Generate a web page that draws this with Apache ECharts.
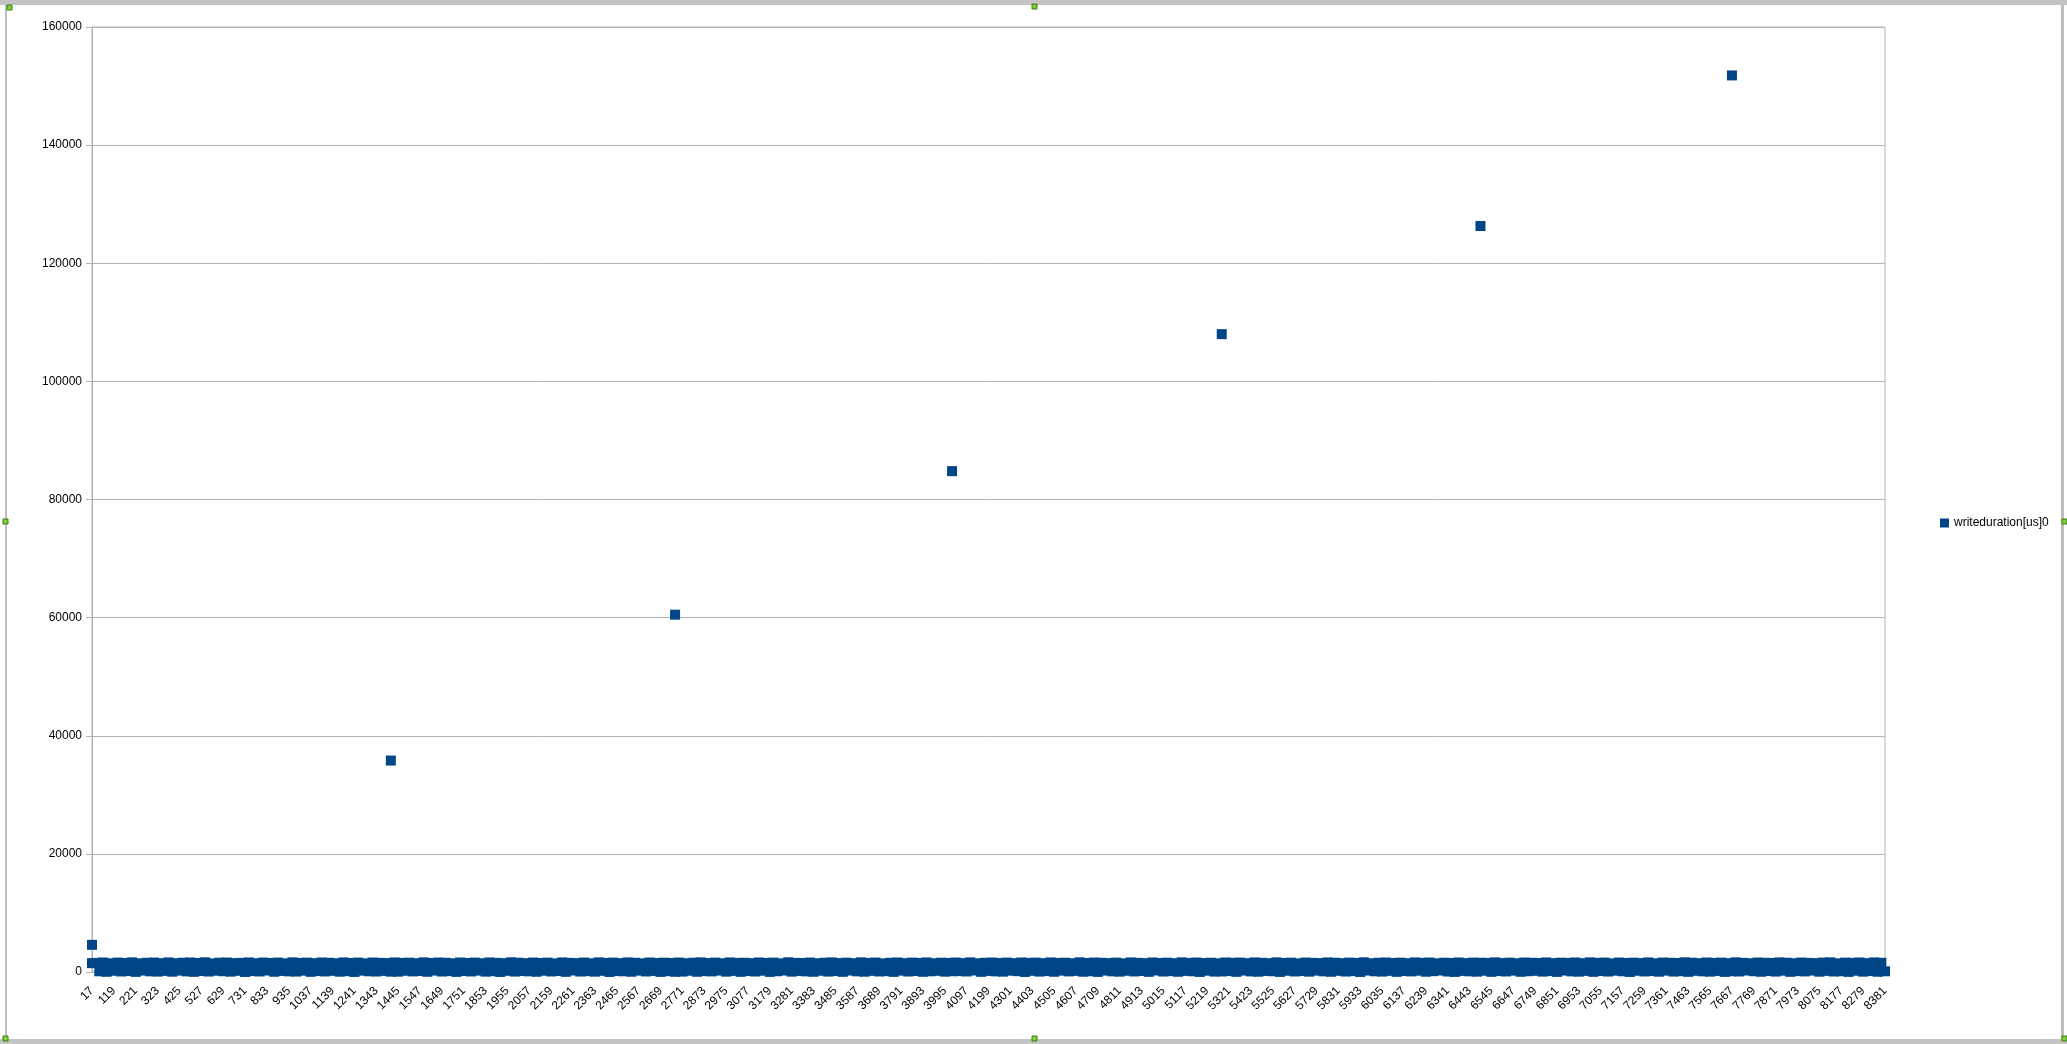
<!DOCTYPE html>
<html>
<head>
<meta charset="utf-8">
<script src="https://cdn.jsdelivr.net/npm/echarts@6/dist/echarts.min.js"></script>
<style>
html,body{margin:0;padding:0;background:#fff;}
#chart{width:2067px;height:1044px;}
</style>
</head>
<body>
<div id="chart"></div>
<script>
// Category labels (row ids), shown every 102
const categories = [];
for (let c = 17; c <= 8381; c += 17) categories.push(String(c));

const seriesName = 'writeduration[us]0';

// Estimated values per category: dense band near 0..1650
const writeDuration = [
1500,1540,120,1610,40,1480,210,1590,90,1520,160,1630,20,1470,240,1560,110,1600,70,1500,
190,1620,50,1490,230,1570,100,1610,30,1530,170,1640,80,1460,220,1580,130,1600,60,1510,
200,1550,10,1620,150,1490,90,1600,250,1530,40,1590,180,1470,110,1630,70,1540,220,1580,
30,1500,160,1610,90,1560,200,1480,50,1620,140,1530,10,1590,230,1470,120,1600,80,1550,
190,1510,60,1620,60,1540,210,1580,100,1490,170,1630,40,1520,240,1600,80,1560,150,1470,
20,1610,180,1530,90,1590,230,1480,60,1620,130,1550,10,1500,200,1640,70,1570,160,1490,
110,1600,40,1530,220,1580,90,1460,170,1620,30,1550,250,1510,80,1600,140,1480,60,1630,
200,1540,10,1590,160,1500,120,1620,50,1560,230,1470,90,1610,180,1530,20,1580,140,1520,
40,1600,70,1490,210,1570,40,1630,150,1510,100,1590,240,1480,60,1620,190,1540,30,1560,
170,1500,80,1610,220,1530,20,1590,130,1470,250,1640,60,1550,180,1520,100,1600,40,1480,
210,1570,70,1620,160,1510,30,1580,240,1490,110,1630,50,1540,190,1600,90,1460,140,1560,
20,1610,230,1500,80,1590,170,1530,40,1620,120,1480,200,1570,60,1540,130,1600,150,1510,
90,1630,250,1470,30,1560,180,1600,110,1520,60,1590,220,1490,140,1610,10,1550,200,1580,
70,1500,160,1620,40,1540,230,1570,100,1480,190,1640,50,1530,130,1600,20,1560,240,1510,
110,1590,60,1470,210,1620,90,1550,170,1500,30,1610,250,1530,80,1580,150,1490,40,1630,
190,1540,120,1600,10,1520,220,1570,70,1480,90,1610,160,1550,30,1590,240,1500,100,1620,
50,1560,180,1490,130,1630,20,1530,210,1580,90,1470,160,1600,60,1540,230,1510,110,1620,
40,1570,200,1500,80,1590,150,1530,10,1640,240,1480,120,1560,70,1610,190,1520,30,1580,
170,1490,100,1620,220,1550,50,1600,140,1470,250,1570,80,1530,20,1610,180,1500,110,1590,
60,1560,210,1540,30,1630,160,1510,90,1580,230,1480,40,1600,130,1560,200,1520,70,1620,
150,1500,20,1570,240,1540,100,1610,60,1490,190,1630,30,1550,170,1590,80,1470,220,1600,
120,1530,10,1580,210,1510,90,1620,160,1480,50,1600,230,1560,70,1520,140,1640,30,1570,
200,1490,110,1610,60,1540,180,1590,20,1500,120,1630,90,1550,250,1480,130,1600,40,1560,
170,1520,70,1620,220,1570,30,1490,150,1600,100,1540,240,1510,50,1590,190,1630,80,1470,
130,1580,20,1550,210,1610,60,1500,160,1620,40,1560,120
];

// Outlier rows of the same series
const outlierCats = ['17', '1411', '2737', '4029', '5287', '6494', '7667'];
const outlierValues = [4600, 35800, 60500, 84800, 108000, 126300, 151800];

const yMin = 0, yMax = 160000, yStep = 20000;

const chart = echarts.init(document.getElementById('chart'), null, {renderer: 'canvas'});
const FONT = 'Liberation Sans, Arial, sans-serif';
const GRAY = '#b3b3b3';
const BLUE = '#004586';

function handle(x, y) {
  return {type: 'rect', shape: {x: x, y: y, width: 5, height: 5}, style: {fill: '#7fd13b', stroke: '#3a7a10', lineWidth: 1}, silent: true, z: 100};
}

const markerStyle = {symbol: 'rect', symbolSize: 10, itemStyle: {color: BLUE, opacity: 1}};

chart.setOption({
  animation: false,
  backgroundColor: '#ffffff',
  textStyle: {fontFamily: FONT},
  grid: {left: 92, right: 182, top: 27, bottom: 72, show: true, borderColor: GRAY, borderWidth: 1, containLabel: false},
  legend: {
    orient: 'vertical', left: 1940, top: 517, padding: 0,
    icon: 'rect', itemWidth: 9, itemHeight: 9,
    textStyle: {fontSize: 12, color: '#000', fontFamily: FONT},
    data: [seriesName]
  },
  xAxis: {
    type: 'category', data: categories, boundaryGap: false,
    axisLine: {show: true, lineStyle: {color: GRAY}},
    axisTick: {show: false},
    axisLabel: {interval: 5, rotate: 45, fontSize: 12, color: '#000', margin: 17, fontFamily: FONT},
    splitLine: {show: false}
  },
  yAxis: {
    type: 'value', min: yMin, max: yMax, interval: yStep,
    axisLine: {show: true, lineStyle: {color: GRAY}},
    axisTick: {show: true, length: 6, lineStyle: {color: GRAY}},
    axisLabel: {fontSize: 12, color: '#000', margin: 10, fontFamily: FONT, formatter: v => String(v)},
    splitLine: {show: true, lineStyle: {color: GRAY, width: 1}}
  },
  series: [
    Object.assign({name: seriesName, type: 'scatter', data: writeDuration, clip: false}, markerStyle),
    Object.assign({name: seriesName, type: 'scatter', clip: false,
      data: outlierCats.map((c, i) => [c, outlierValues[i]])}, markerStyle)
  ],
  graphic: [
    {type: 'rect', shape: {x: 0, y: 0, width: 2067, height: 5}, style: {fill: '#c4c4c4'}, silent: true, z: 90},
    {type: 'rect', shape: {x: 0, y: 1039, width: 2067, height: 5}, style: {fill: '#c4c4c4'}, silent: true, z: 90},
    {type: 'rect', shape: {x: 5, y: 5, width: 2, height: 1034}, style: {fill: '#bdbdbd'}, silent: true, z: 90},
    {type: 'rect', shape: {x: 2061, y: 5, width: 3, height: 1034}, style: {fill: '#bdbdbd'}, silent: true, z: 90},
    handle(7, 5), handle(1032, 4), handle(3, 519), handle(2062, 519), handle(1032, 1036), handle(3, 1036), handle(2062, 1036)
  ]
});
</script>
</body>
</html>
